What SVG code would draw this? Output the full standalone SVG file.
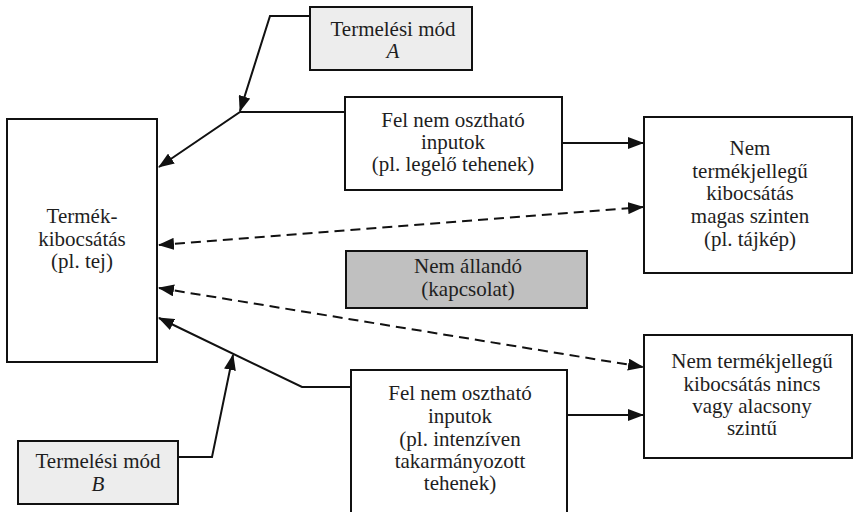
<svg xmlns="http://www.w3.org/2000/svg" width="856" height="512" viewBox="0 0 856 512">
<style>
.box{fill:#fff;stroke:#111;stroke-width:2}
.lg{fill:#ededed}
.dg{fill:#c0c0c0}
text{font-family:"Liberation Serif","Times New Roman",serif;font-size:21px;fill:#1e1e1e;text-anchor:middle}
.it{font-style:italic}
.c{fill:none;stroke:#111;stroke-width:2}
.d{stroke-dasharray:10,6}
</style>
<defs>
<marker id="ah" markerUnits="userSpaceOnUse" markerWidth="16" markerHeight="12" viewBox="0 0 16 12" refX="15" refY="6" orient="auto-start-reverse">
<path d="M0,0 L16,6 L0,12 z" fill="#111"/>
</marker>
</defs>
<rect width="856" height="512" fill="#fff"/>
<g id="connectors">
<polyline class="c" points="310,16 270,16 240,111" marker-end="url(#ah)"/>
<polyline class="c" points="345,112 240,112 159,167" marker-end="url(#ah)"/>
<polyline class="c" points="351,387 302,387 159,318" marker-end="url(#ah)"/>
<polyline class="c" points="178,457 212,457 233,355" marker-end="url(#ah)"/>
<line class="c" x1="562" y1="143" x2="643" y2="143" marker-end="url(#ah)"/>
<line class="c" x1="568" y1="415" x2="643" y2="415" marker-end="url(#ah)"/>
<line class="c d" x1="159" y1="245" x2="643" y2="207" marker-start="url(#ah)" marker-end="url(#ah)"/>
<line class="c d" x1="159" y1="288" x2="643" y2="367" marker-start="url(#ah)" marker-end="url(#ah)"/>
</g>
<g id="modA">
<rect class="box lg" x="310" y="7" width="162" height="63"/>
<text x="393" y="36">Termelési mód</text>
<text class="it" x="393" y="58">A</text>
</g>
<g id="termek">
<rect class="box" x="7" y="119" width="150" height="243"/>
<text x="82" y="223">Termék-</text>
<text x="82" y="246">kibocsátás</text>
<text x="82" y="268">(pl. tej)</text>
</g>
<g id="felnem1">
<rect class="box" x="345" y="97" width="217" height="93"/>
<text x="453" y="127">Fel nem osztható</text>
<text x="453" y="149">inputok</text>
<text x="453" y="171">(pl. legelő tehenek)</text>
</g>
<g id="nemmagas">
<rect class="box" x="644" y="117" width="208" height="156"/>
<text x="750" y="155">Nem</text>
<text x="750" y="178">termékjellegű</text>
<text x="750" y="200">kibocsátás</text>
<text x="750" y="223">magas szinten</text>
<text x="750" y="246">(pl. tájkép)</text>
</g>
<g id="nemallando">
<rect class="box dg" x="346" y="251" width="241" height="57"/>
<text x="468" y="273">Nem állandó</text>
<text x="468" y="296">(kapcsolat)</text>
</g>
<g id="nemalacsony">
<rect class="box" x="644" y="335" width="208" height="123"/>
<text x="752" y="368">Nem termékjellegű</text>
<text x="752" y="391">kibocsátás nincs</text>
<text x="752" y="413">vagy alacsony</text>
<text x="752" y="435">szintű</text>
</g>
<g id="felnem2">
<rect class="box" x="351" y="370" width="216" height="150"/>
<text x="460" y="400">Fel nem osztható</text>
<text x="460" y="423">inputok</text>
<text x="460" y="446">(pl. intenzíven</text>
<text x="460" y="468">takarmányozott</text>
<text x="460" y="490">tehenek)</text>
</g>
<g id="modB">
<rect class="box lg" x="18" y="441" width="160" height="63"/>
<text x="98" y="468">Termelési mód</text>
<text class="it" x="98" y="491">B</text>
</g>
</svg>
